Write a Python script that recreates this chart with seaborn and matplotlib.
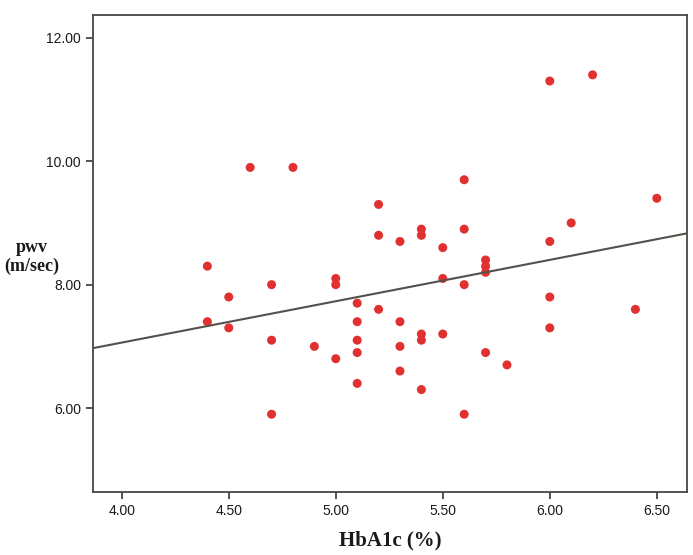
import numpy as np
import pandas as pd
import matplotlib
matplotlib.use("Agg")
import matplotlib.pyplot as plt
import seaborn as sb

# HbA1c (%) vs pulse wave velocity (m/sec)
hba1c = [4.4, 4.4, 4.5, 4.5, 4.6, 4.7, 4.7, 4.7, 4.8, 4.9,
         5.0, 5.0, 5.0, 5.1, 5.1, 5.1, 5.1, 5.1, 5.2, 5.2,
         5.2, 5.3, 5.3, 5.3, 5.3, 5.4, 5.4, 5.4, 5.4, 5.4,
         5.5, 5.5, 5.5, 5.6, 5.6, 5.6, 5.6, 5.7, 5.7, 5.7,
         5.7, 5.8, 6.0, 6.0, 6.0, 6.0, 6.1, 6.2, 6.4, 6.5]
pwv = [8.3, 7.4, 7.8, 7.3, 9.9, 8.0, 7.1, 5.9, 9.9, 7.0,
       8.1, 8.0, 6.8, 7.7, 7.4, 7.1, 6.9, 6.4, 9.3, 8.8,
       7.6, 8.7, 7.4, 7.0, 6.6, 8.9, 8.8, 7.2, 7.1, 6.3,
       8.6, 8.1, 7.2, 9.7, 8.9, 8.0, 5.9, 8.4, 8.3, 8.2,
       6.9, 6.7, 11.3, 8.7, 7.8, 7.3, 9.0, 11.4, 7.6, 9.4]

xticks = [4.0, 4.5, 5.0, 5.5, 6.0, 6.5]
yticks = [6.0, 8.0, 10.0, 12.0]

df = pd.DataFrame({"HbA1c": hba1c, "pwv": pwv})

sb.set_style("white")
plt.rcParams["font.family"] = ["Liberation Sans", "DejaVu Sans"]

fig = plt.figure(figsize=(6.93, 5.55), dpi=100)
ax = fig.add_axes([0.134, 0.1135, 0.857, 0.8595])

ax.set_xlim(3.865, 6.64)
ax.set_ylim(4.64, 12.37)

sb.regplot(data=df, x="HbA1c", y="pwv", ax=ax, ci=None, truncate=False,
           scatter_kws={"s": 42, "color": "#e0302f", "edgecolor": "none", "alpha": 1},
           line_kws={"color": "#55504c", "lw": 1.5})

ax.set_xlim(3.865, 6.64)
ax.set_ylim(4.64, 12.37)
ax.set_xticks(xticks)
ax.set_yticks(yticks)
ax.set_xticklabels(["%.2f" % v for v in xticks])
ax.set_yticklabels(["%.2f" % v for v in yticks])
ax.tick_params(axis="both", bottom=True, left=True, direction="out",
               length=5, width=1.2, color="#3a3530",
               labelsize=10, labelcolor="#1a1a1a")

for sp in ax.spines.values():
    sp.set_color("#4a4540")
    sp.set_linewidth(1.3)

ax.set_xlabel("HbA1c (%)", fontsize=15, fontweight="bold",
              family="Liberation Serif", color="#1a1a1a", labelpad=9)
ax.set_ylabel("pwv\n(m/sec)", fontsize=13, fontweight="bold",
              family="Liberation Serif", color="#1a1a1a",
              rotation=0, ha="center", va="center", linespacing=1.1)
ax.yaxis.set_label_coords(-0.103, 0.493)

fig.savefig("out.png", dpi=100)
